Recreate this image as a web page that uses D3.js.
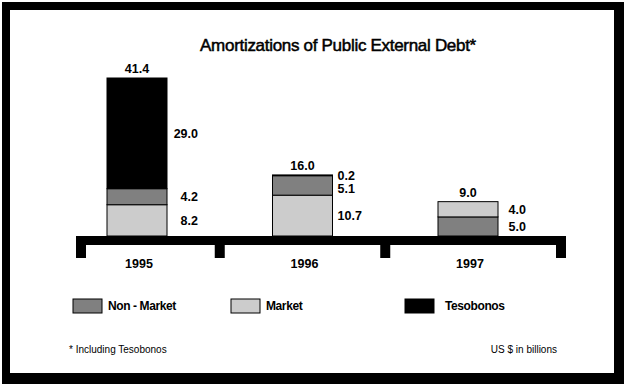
<!DOCTYPE html>
<html>
<head>
<meta charset="utf-8">
<script src="https://cdn.jsdelivr.net/npm/d3@7/dist/d3.min.js"></script>
<style>
  html, body { margin: 0; padding: 0; background: #fff; }
  svg { display: block; font-family: "Liberation Sans", Arial, sans-serif; }
</style>
</head>
<body>
<svg id="chart" width="624" height="384"></svg>
<script>
// data (US $ billions)
const years = ["1995", "1996", "1997"];
const market = [8.2, 10.7, 4.0];
const nonMarket = [4.2, 5.1, 5.0];
const tesobonos = [29.0, 0.2, 0];
const totals = [41.4, 16.0, 9.0];
// stacking order, bottom to top, per year
const stackOrder = [
  ["market", "nonMarket", "tesobonos"],
  ["market", "nonMarket", "tesobonos"],
  ["nonMarket", "market"]
];
const legendKeys = ["nonMarket", "market", "tesobonos"];
const legendNames = ["Non - Market", "Market", "Tesobonos"];

const seriesValues = { market, nonMarket, tesobonos };
const colors = { market: "#cccccc", nonMarket: "#808080", tesobonos: "#000000" };

const svg = d3.select("#chart");

// frame
svg.append("rect").attr("x", 2).attr("y", 2).attr("width", 622).attr("height", 382).attr("fill", "#000");
svg.append("rect").attr("x", 10).attr("y", 10).attr("width", 604).attr("height", 363).attr("fill", "#fff");

// title
svg.append("text")
  .attr("x", 338).attr("y", 51)
  .attr("text-anchor", "middle")
  .attr("font-size", 17)
  .attr("letter-spacing", -0.3)
  .attr("fill", "#000")
  .attr("stroke", "#000")
  .attr("stroke-width", 0.5)
  .text("Amortizations of Public External Debt*");

// scales
const baseY = 236;
const axisLeft = 76, axisRight = 566;
const x = d3.scalePoint().domain(years).range([137, 468]);
const y = d3.scaleLinear().domain([0, d3.max(totals)]).range([baseY, 78]);
const barW = 60;

// build stacked segments
const segments = [];
years.forEach((yr, i) => {
  let acc = 0;
  stackOrder[i].forEach(key => {
    const v = seriesValues[key][i];
    if (!v) return;
    segments.push({ year: yr, idx: i, key, v, y0: acc, y1: acc + v });
    acc += v;
  });
});

svg.append("g").selectAll("rect")
  .data(segments)
  .join("rect")
  .attr("x", d => x(d.year) - barW / 2)
  .attr("y", d => y(d.y1))
  .attr("width", barW)
  .attr("height", d => y(d.y0) - y(d.y1))
  .attr("fill", d => colors[d.key])
  .attr("stroke", "#000")
  .attr("stroke-width", 1);

// totals above bars
svg.append("g").selectAll("text")
  .data(years)
  .join("text")
  .attr("x", d => x(d))
  .attr("y", (d, i) => y(totals[i]) - 5)
  .attr("text-anchor", "middle")
  .attr("font-size", 12.5)
  .attr("font-weight", "bold")
  .text((d, i) => totals[i].toFixed(1));

// segment labels beside bars, pushed apart when segments are thin
const labelStyle = [
  { anchor: "end", dx: barW / 2 + 31 },
  { anchor: "start", dx: barW / 2 + 5 },
  { anchor: "end", dx: barW / 2 + 28 }
];
years.forEach((yr, i) => {
  const segs = segments.filter(s => s.idx === i).slice().reverse(); // top first
  let prev = -Infinity;
  segs.forEach(s => {
    let cy = (y(s.y0) + y(s.y1)) / 2;
    if (cy < prev + 13) cy = prev + 13;
    s.ly = cy;
    prev = cy;
  });
});

svg.append("g").selectAll("text")
  .data(segments)
  .join("text")
  .attr("x", d => x(d.year) + labelStyle[d.idx].dx)
  .attr("y", d => d.ly)
  .attr("dy", "0.35em")
  .attr("text-anchor", d => labelStyle[d.idx].anchor)
  .attr("font-size", 12.5)
  .attr("font-weight", "bold")
  .text(d => d.v.toFixed(1));

// axis bar with ticks at category boundaries
svg.append("rect")
  .attr("x", axisLeft).attr("y", baseY)
  .attr("width", axisRight - axisLeft).attr("height", 9)
  .attr("fill", "#000");

const pts = years.map(d => x(d));
const tickXs = [axisLeft + 5];
for (let i = 1; i < pts.length; i++) tickXs.push((pts[i - 1] + pts[i]) / 2);
tickXs.push(axisRight - 5);
svg.append("g").selectAll("rect")
  .data(tickXs)
  .join("rect")
  .attr("x", d => d - 5)
  .attr("y", baseY + 9)
  .attr("width", 10)
  .attr("height", 13)
  .attr("fill", "#000");

svg.append("g").selectAll("text")
  .data(years)
  .join("text")
  .attr("x", d => x(d) + 2)
  .attr("y", 268)
  .attr("text-anchor", "middle")
  .attr("font-size", 12.5)
  .attr("font-weight", "bold")
  .text(d => d);

// legend
const legendX = [73, 231, 405];
const lg = svg.append("g").selectAll("g")
  .data(legendKeys)
  .join("g")
  .attr("transform", (d, i) => `translate(${legendX[i]},299)`);
lg.append("rect")
  .attr("width", 29).attr("height", 14)
  .attr("fill", d => colors[d])
  .attr("stroke", "#000");
lg.append("text")
  .attr("x", (d, i) => i === 2 ? 40 : 35)
  .attr("y", 7)
  .attr("dy", "0.35em")
  .attr("font-size", 12)
  .attr("font-weight", "bold")
  .attr("letter-spacing", -0.4)
  .text((d, i) => legendNames[i]);

// footnotes
svg.append("text")
  .attr("x", 69).attr("y", 353)
  .attr("font-size", 10)
  .text("* Including Tesobonos");
svg.append("text")
  .attr("x", 557).attr("y", 353)
  .attr("text-anchor", "end")
  .attr("font-size", 10)
  .text("US $ in billions");
</script>
</body>
</html>
